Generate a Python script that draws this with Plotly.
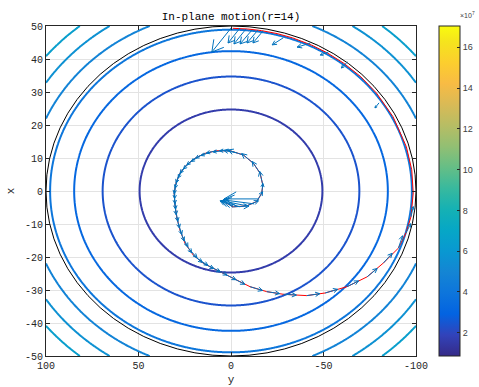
import math
import numpy as np
import plotly.graph_objects as go
import plotly.figure_factory as ff

# ---------------- data ----------------
# trajectory (horizontal axis = "y", vertical axis = "x")
traj_y = [2.7, -1.2, -8.5, -13.9, -16.6, -17.2, -15.7, -12.1, -6.7, 0.5, 7.8, 14.1, 19.5, 24.0,
          27.6, 29.8, 30.7, 30.4, 29.4, 27.6, 24.9, 20.4, 15.0, 7.8, -1.2, -10.3, -19.3, -28.3,
          -41.0, -50.9, -62.7, -73.6, -82.4, -90.5, -94.6, -97.3, -98.5, -97.7, -94.8, -87.6,
          -78.6, -70.2, -61.0, -52.2, -43.6, -33.3, -24.9, -16.5, -8.9, -1.0]
traj_x = [-3.6, -4.8, -4.5, -3.2, -0.7, 1.8, 5.4, 8.4, 10.9, 12.2, 12.2, 11.4, 9.9, 7.9,
          5.4, 2.3, -0.7, -3.7, -7.8, -11.8, -15.8, -19.4, -21.9, -23.9, -26.5, -29.0, -30.5, -31.3,
          -31.7, -30.9, -29.0, -26.0, -21.8, -17.3, -12.7, -7.8, -0.6, 6.4, 13.4, 22.5,
          29.7, 34.6, 38.7, 41.8, 44.2, 46.4, 47.7, 48.6, 49.1, 49.3]

# quiver arrows along the path: tail position and vector components
q_y = [-1.2, -8.5, -13.9, -16.6, -17.2, -15.7, -12.1, -6.7, 0.5, 7.8, 14.1, 19.5, 24.0, 27.6,
       29.8, 30.7, 30.4, 29.4, 27.6, 24.9, 20.4, 15.0, 7.8, -1.2, -10.3, -19.3, -28.3, -41.0,
       -50.9, -62.7, -73.6, -82.4, -90.5, -94.6, -97.3,
       -80.0, -62.9, -52.6, -42.8, -28.2,
       -3.1, 4.15, 10.95, 16.8, 21.75, 25.8, 28.7, 30.25, 30.55, 29.9, 28.5, 26.25, 22.65,
       17.7, 11.4, 3.3]
q_x = [-4.8, -4.5, -3.2, -0.7, 1.8, 5.4, 8.4, 10.9, 12.2, 12.2, 11.4, 9.9, 7.9, 5.4,
       2.3, -0.7, -3.7, -7.8, -11.8, -15.8, -19.4, -21.9, -23.9, -26.5, -29.0, -30.5, -31.3, -31.7,
       -30.9, -29.0, -26.0, -21.8, -17.3, -12.7, -7.8,
       26.7, 39.1, 42.1, 44.8, 46.4,
       11.55, 12.2, 11.8, 10.65, 8.9, 6.65, 3.85, 0.8, -2.2, -5.75, -9.8, -13.8, -17.6,
       -20.65, -22.9, -25.2]
q_u = [-6.56, -4.88, -2.44, -0.49, 1.30, 3.25, 4.88, 6.50, 4.34, 4.23, 3.85, 3.36, 2.71, 1.63,
       0.70, -0.33, -0.60, -1.19, -1.73, -2.82, -3.74, -4.34, -4.34, -4.82, -5.20, -5.37, -5.42, -5.37,
       -5.20, -4.82, -4.17, -3.63, -1.73, -1.95, -0.92,
       1.67, 2.50, 3.34, 5.42, 4.58,
       5.42, 4.29, 4.04, 3.61, 3.04, 2.17, 1.17, 0.19, -0.47, -0.90, -1.46, -2.28, -3.28,
       -4.04, -4.34, -4.58]
q_v = [0.18, 1.18, 2.30, 2.27, 3.18, 2.73, 2.27, 1.18, 0.0, -0.52, -1.09, -1.52, -1.88, -2.24,
       -2.39, -2.42, -2.70, -2.64, -2.55, -2.24, -1.73, -1.21, -1.21, -1.36, -0.88, -0.45, -0.18, 0.45,
       0.85, 1.36, 1.94, 2.24, 2.88, 2.15, 2.36,
       -1.17, -1.40, -0.70, -0.93, -1.63,
       0.59, -0.26, -0.81, -1.31, -1.70, -2.06, -2.32, -2.41, -2.56, -2.67, -2.60, -2.40, -1.99,
       -1.47, -1.21, -1.29]

# large arrows at the start and at the end of the path
fan_y = [-1.1, -4.9, -8.7, -12.5, -15.2, -17.3, -14.6, -11.4, -8.1, -4.9, -0.5]
fan_x = [-4.5, -4.8, -4.5, -3.9, -2.4, 48.5, 48.8, 48.8, 49.1, 49.4, 49.7]
fan_u = [7.05, 10.3, 13.55, 16.8, 18.97, 5.42, 5.96, 6.5, 6.5, 6.5, 10.84]
fan_v = [1.52, 1.82, 1.52, 1.21, 0.0, -3.64, -3.94, -4.24, -4.55, -4.55, -7.58]

# contour field parameters (values in units of 1e7)
field_min = 0.86
field_coef = 0.00118
contour_levels = [1.58, 2.28, 2.97, 3.66, 4.36, 5.05, 5.74, 6.43]
color_range = [0.86, 17.04]
cbar_ticks = [2, 4, 6, 8, 10, 12, 14, 16]

# reference ellipse semi-axes (y, x)
ellipse_axes = [100, 50]

xticks_h = [100, 50, 0, -50, -100]
xticks_h_text = ["100", "50", "0", "-50", "-100"]
yticks_v = [-50, -40, -30, -20, -10, 0, 10, 20, 30, 40, 50]
yticks_v_text = ["-50", "-40", "-30", "-20", "-10", "0", "10", "20", "30", "40", "50"]

# ---------------- styles ----------------
parula_rgb = [
    (53, 42, 135), (50, 67, 186), (3, 99, 225), (13, 117, 220), (20, 133, 212), (9, 152, 209),
    (6, 167, 198), (21, 177, 180), (56, 185, 158), (101, 190, 134), (146, 191, 115),
    (183, 189, 100), (217, 186, 86), (248, 187, 68), (252, 206, 46), (245, 228, 29), (249, 251, 14),
]
parula_pos = [0, 4, 8, 12, 16, 20, 24, 28, 32, 36, 40, 44, 48, 52, 56, 60, 63]
parula = [[p / 63, "rgb(%d,%d,%d)" % c] for p, c in zip(parula_pos, parula_rgb)]


def parula_at(f):
    f = min(max(f, 0.0), 1.0) * 63
    for i in range(len(parula_pos) - 1):
        a, b = parula_pos[i], parula_pos[i + 1]
        if a <= f <= b:
            t = (f - a) / (b - a)
            c = [parula_rgb[i][k] + t * (parula_rgb[i + 1][k] - parula_rgb[i][k]) for k in range(3)]
            return "rgb(%d,%d,%d)" % tuple(round(v) for v in c)
    return "rgb(%d,%d,%d)" % parula_rgb[-1]


n_lv = len(contour_levels)
level_scale = [[k / (n_lv - 1),
                parula_at((contour_levels[k] - color_range[0]) / (color_range[1] - color_range[0]))]
               for k in range(n_lv)]

FONT = "Liberation Mono"
AX = "#262626"
QCOL = "#0072BD"

W, H = 479, 387
ML, MR, MT, MB = 46, 63, 26, 31
plot_w = W - ML - MR
plot_h = H - MT - MB
ratio = (plot_h / 100) / (plot_w / 200)   # pixel aspect between the two axes

# ---------------- figure ----------------
gy = np.linspace(-100, 100, 401)
gx = np.linspace(-50, 50, 201)
GY, GX = np.meshgrid(gy, gx)
Z = field_min + field_coef * (GX ** 2 + (GY / 2) ** 2)

fig = go.Figure()
fig.add_trace(go.Contour(
    x=gy, y=gx, z=Z,
    contours=dict(start=contour_levels[0], end=contour_levels[-1],
                  size=contour_levels[1] - contour_levels[0], coloring="lines"),
    colorscale=level_scale, line=dict(width=2), showscale=False, hoverinfo="skip",
))

# colorbar carrier (outside the visible range)
fig.add_trace(go.Heatmap(
    x=[300, 301], y=[0], z=[color_range], colorscale=parula,
    zmin=color_range[0], zmax=color_range[1], hoverinfo="skip",
    colorbar=dict(
        thickness=21, thicknessmode="pixels", len=plot_h, lenmode="pixels",
        x=(438.5 - ML) / plot_w, xanchor="left", y=1, yanchor="top",
        xpad=0, ypad=0, outlinewidth=1, outlinecolor=AX,
        tickvals=cbar_ticks, ticktext=[str(t) for t in cbar_ticks],
        ticks="inside", ticklen=3, tickcolor=AX,
        tickfont=dict(family="Liberation Sans", size=9, color="#404040"),
    ),
))

fig.add_trace(go.Scatter(x=traj_y, y=traj_x, mode="lines",
                         line=dict(color="red", width=1), hoverinfo="skip"))

# create_quiver multiplies u by scaleratio internally, so pass u / ratio
q = ff.create_quiver(q_y, q_x, [u / ratio for u in q_u], q_v, scale=1.3, arrow_scale=0.38,
                     angle=math.pi / 7, scaleratio=ratio)
qf = ff.create_quiver(fan_y, fan_x, [u / ratio for u in fan_u], fan_v, scale=1, arrow_scale=0.4,
                      angle=math.pi / 6, scaleratio=ratio)
for tr in list(q.data) + list(qf.data):
    tr.line = dict(color=QCOL, width=1)
    tr.hoverinfo = "skip"
    fig.add_trace(tr)

fig.add_shape(type="circle", xref="x", yref="y",
              x0=-ellipse_axes[0], x1=ellipse_axes[0],
              y0=-ellipse_axes[1], y1=ellipse_axes[1],
              line=dict(color="black", width=1), layer="between")

axis_common = dict(
    showline=True, linecolor=AX, linewidth=1, mirror="ticks",
    ticks="inside", ticklen=4, tickcolor=AX,
    showgrid=True, gridcolor="#e3e3e3", gridwidth=1, zeroline=False,
    tickfont=dict(family=FONT, size=10, color=AX),
)
fig.update_xaxes(range=[100, -100], tickvals=xticks_h, ticktext=xticks_h_text,
                 title=dict(text="y", font=dict(family=FONT, size=11, color=AX), standoff=4),
                 **axis_common)
fig.update_yaxes(range=[-50, 50], tickvals=yticks_v, ticktext=yticks_v_text,
                 title=dict(text="x", font=dict(family=FONT, size=11, color=AX), standoff=8),
                 **axis_common)

fig.update_layout(
    width=W, height=H, showlegend=False,
    margin=dict(l=ML, r=MR, t=MT, b=MB, autoexpand=False),
    paper_bgcolor="white", plot_bgcolor="white",
    title=dict(text="In-plane motion(r=14)", x=231 / W, xanchor="center",
               y=1 - 16 / H, yanchor="middle",
               font=dict(family=FONT, size=11, color="black")),
    annotations=[dict(text="×10<sup>7</sup>", xref="paper", yref="paper",
                      x=(477 - ML) / plot_w, y=1 + 11 / plot_h, showarrow=False,
                      xanchor="right", yanchor="middle",
                      font=dict(family="Liberation Sans", size=7, color="#404040"))],
)

fig.write_html("out.html", config={"displayModeBar": False},
               post_script="document.body.style.margin='0px';")
